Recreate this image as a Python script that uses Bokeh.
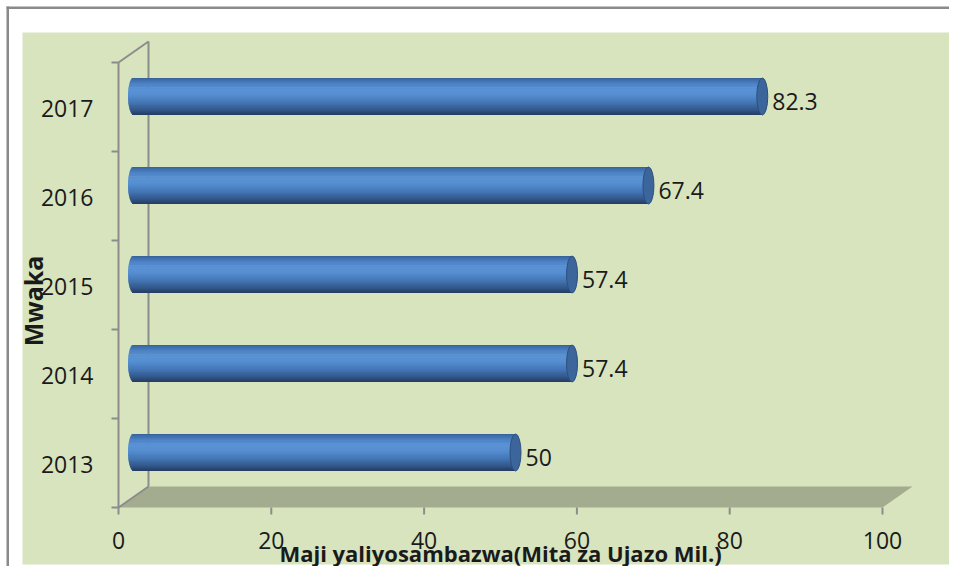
import math
from bokeh.plotting import figure
from bokeh.models import Range1d
from bokeh.core.properties import value
from bokeh.embed import file_html
from bokeh.resources import INLINE

# ---------------- data ----------------
years = ["2013", "2014", "2015", "2016", "2017"]
water = [50, 57.4, 57.4, 67.4, 82.3]
value_labels = ["50", "57.4", "57.4", "67.4", "82.3"]
x_ticks = [0, 20, 40, 60, 80, 100]
x_tick_labels = ["0", "20", "40", "60", "80", "100"]
x_title = "Maji yaliyosambazwa(Mita za Ujazo Mil.)"
y_title = "Mwaka"

# ---------------- geometry / scales ----------------
W, H = 949, 566
PXX = 7.64    # pixels per x unit
PXY = 89.0    # pixels per category
X0_PX = 118   # frame x pixel of value 0
YB_PX = 507   # frame y pixel of the front floor edge (category -0.5)

x_start = -X0_PX / PXX
x_end = x_start + W / PXX
y_end = -0.5 + YB_PX / PXY
y_start = y_end - H / PXY


def dx(px):
    return px / PXX


def dy(px):
    return px / PXY


def fx2x(f):
    return x_start + f / PXX


def fy2y(f):
    return y_end - f / PXY


DX = dx(30)   # 3D depth offset
DY = dy(21)

BG_GREEN = "#d7e4bd"
FLOOR = "#a3ac8e"
AXIS = "#8c8c8c"
TEXT = "#1a1a1a"
FONT = value("Open Sans")

p = figure(width=W, height=H,
           x_range=Range1d(x_start, x_end), y_range=Range1d(y_start, y_end),
           x_axis_type=None, y_axis_type=None,
           toolbar_location=None, output_backend="svg", min_border=0)
p.outline_line_color = None
p.background_fill_color = "white"
p.border_fill_color = "white"

# chart-area background
p.quad(left=fx2x(22), right=x_end, top=fy2y(32), bottom=fy2y(564),
       fill_color=BG_GREEN, line_color=None)
# outer frame lines (top / left)
p.quad(left=fx2x(6), right=x_end, top=fy2y(6), bottom=fy2y(8.5),
       fill_color="#8a8a8a", line_color=None)
p.quad(left=fx2x(6), right=fx2x(8.5), top=fy2y(6), bottom=y_start,
       fill_color="#8a8a8a", line_color=None)

n = len(years)
ybot = -0.5
ytop = n - 0.5
xmax = x_ticks[-1]

# floor
p.patch(x=[0, DX, xmax + DX, xmax], y=[ybot, ybot + DY, ybot + DY, ybot],
        fill_color=FLOOR, line_color=None)

# back wall line, front axis line, diagonals
p.line(x=[DX, DX], y=[ybot + DY, ytop + DY], line_color=AXIS, line_width=2)
p.line(x=[0, 0], y=[ybot, ytop], line_color=AXIS, line_width=2)
p.line(x=[0, DX], y=[ytop, ytop + DY], line_color=AXIS, line_width=2)
p.line(x=[0, DX], y=[ybot, ybot + DY], line_color=AXIS, line_width=2)

# y ticks (category boundaries)
bounds = [ybot + k for k in range(n + 1)]
p.segment(x0=[0] * len(bounds), y0=bounds, x1=[-dx(7)] * len(bounds), y1=bounds,
          line_color=AXIS, line_width=2)
# x ticks
p.segment(x0=x_ticks, y0=[ybot] * len(x_ticks), x1=x_ticks,
          y1=[ybot - dy(7)] * len(x_ticks), line_color=AXIS, line_width=2)

# ---------------- cylinders ----------------
stops = [(0.0, (0x22, 0x3a, 0x5e)), (0.12, (0x31, 0x55, 0x86)),
         (0.32, (0x42, 0x74, 0xb2)), (0.55, (0x56, 0x8f, 0xd1)),
         (0.68, (0x5a, 0x93, 0xd5)), (0.85, (0x4c, 0x82, 0xc5)),
         (0.95, (0x3f, 0x6e, 0xaa)), (1.0, (0x36, 0x5e, 0x94))]


def grad(u):
    for (u0, c0), (u1, c1) in zip(stops[:-1], stops[1:]):
        if u0 <= u <= u1:
            t = (u - u0) / (u1 - u0)
            return "#%02x%02x%02x" % tuple(int(round(a + (b - a) * t)) for a, b in zip(c0, c1))
    return "#%02x%02x%02x" % stops[-1][1]


BAR_H = dy(37)
CAP_A = dx(5.5)
NS = 30
L, R, T, B, C = [], [], [], [], []
for i, v in enumerate(water):
    yc = i + DY / 2
    for k in range(NS):
        u = (k + 0.5) / NS
        t = -BAR_H / 2 + u * BAR_H
        s = math.sqrt(max(0.0, 1 - (2 * t / BAR_H) ** 2))
        L.append(DX / 2 - CAP_A * s)
        R.append(v + DX / 2)
        B.append(yc - BAR_H / 2 + k * BAR_H / NS)
        T.append(yc - BAR_H / 2 + (k + 1.6) * BAR_H / NS if k < NS - 1 else yc + BAR_H / 2)
        C.append(grad(u))
p.quad(left=L, right=R, top=T, bottom=B, fill_color=C, line_color=None)

cap_x = [v + DX / 2 for v in water]
cap_y = [i + DY / 2 for i in range(n)]
p.ellipse(x=cap_x, y=cap_y, width=2 * CAP_A, height=BAR_H,
          fill_color="#3c659b", line_color="#2d4f7e", line_width=1)

# ---------------- texts ----------------
p.text(x=[0] * n, y=list(range(n)), text=years, x_offset=-25, y_offset=1,
       text_align="right", text_baseline="middle", text_font=FONT,
       text_font_size="23px", text_color=TEXT)
p.text(x=water, y=cap_y, text=value_labels, x_offset=25, y_offset=5,
       text_align="left", text_baseline="middle", text_font=FONT,
       text_font_size="23px", text_color=TEXT)
p.text(x=x_ticks, y=[ybot] * len(x_ticks), text=x_tick_labels, y_offset=33,
       text_align="center", text_baseline="middle", text_font=FONT,
       text_font_size="23px", text_color=TEXT)
p.text(x=[(x_ticks[0] + x_ticks[-1]) / 2], y=[ybot], text=[x_title], y_offset=45,
       text_align="center", text_baseline="middle", text_font=FONT,
       text_font_style="bold", text_font_size="22px", text_color=TEXT)
p.text(x=[0], y=[(n - 1) / 2], text=[y_title], x_offset=-86, y_offset=16,
       angle=math.pi / 2, text_align="center", text_baseline="middle",
       text_font=FONT, text_font_style="bold", text_font_size="25px",
       text_color=TEXT)

open("out.html", "w").write(file_html(p, INLINE))
